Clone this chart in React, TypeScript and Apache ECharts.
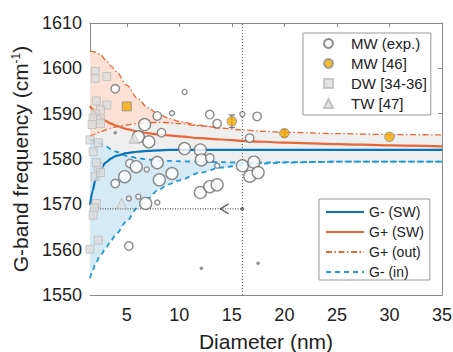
import React, { useEffect, useRef } from 'react';
import * as echarts from 'echarts';

// ---- data ----
const X_GRID = [1.5, 1.75, 2, 2.5, 3, 3.5, 4, 5, 6, 7, 8, 9, 10, 12, 14, 16, 18, 20, 25, 30, 35];
const G_PLUS_OUT_UPPER = [1603.8, 1603.7, 1603.6, 1603, 1601.8, 1600.5, 1599.3, 1596.3, 1593.4, 1591.3, 1589.9, 1589, 1588.3, 1587.4, 1586.8, 1586.4, 1586.1, 1585.9, 1585.6, 1585.4, 1585.3];
const G_PLUS_OUT_LOWER = [1585, 1585.3, 1585.5, 1586, 1586.4, 1586.8, 1587.1, 1587.5, 1587.8, 1588, 1588.1, 1588, 1587.8, 1587.3, 1586.8, 1586.4, 1586.1, 1585.9, 1585.6, 1585.4, 1585.3];
const G_PLUS_SW = [1591.7, 1591, 1590.3, 1589.2, 1588.4, 1587.8, 1587.3, 1586.6, 1586.1, 1585.7, 1585.4, 1585.2, 1585, 1584.6, 1584.3, 1584, 1583.8, 1583.6, 1583.3, 1583, 1582.8];
const G_MINUS_SW = [1569.8, 1573, 1575.3, 1577.8, 1579.2, 1580.1, 1580.7, 1581.3, 1581.6, 1581.8, 1581.9, 1582, 1582, 1582, 1582, 1582, 1582, 1582, 1582, 1582, 1582];
const G_MINUS_IN_UPPER = [1584.3, 1584.1, 1583.9, 1583.4, 1582.8, 1582.2, 1581.6, 1580.7, 1580.2, 1579.9, 1579.7, 1579.6, 1579.5, 1579.4, 1579.3, 1579.2, 1579.2, 1579.3, 1579.4, 1579.4, 1579.4];
const G_MINUS_IN_LOWER = [1553.7, 1555.3, 1556.8, 1558.8, 1560.3, 1562, 1563.5, 1566.3, 1569.2, 1571.3, 1573.2, 1574.4, 1575.3, 1577, 1578.1, 1578.7, 1579, 1579.2, 1579.4, 1579.4, 1579.4];
const LOWER_OUT_END = 14; // lower G+ (out) bound drawn up to where it merges

// [diameter, frequency, marker size class]
const MW_EXP = [
  [3.9, 1595.5, 2], [10.5, 1594.8, 1], [7.9, 1589.5, 2], [9.3, 1590.1, 1], [12.9, 1589.8, 2],
  [13.6, 1587.8, 2], [6.7, 1587.6, 3], [8.3, 1585.8, 2], [6.1, 1584.9, 3], [7.1, 1583.8, 3],
  [10.5, 1582.3, 3], [12.0, 1582.0, 3], [12.1, 1579.8, 3], [12.9, 1580.2, 2], [13.6, 1578.5, 1],
  [5.3, 1579.0, 2], [5.9, 1578.3, 3], [7.9, 1579.2, 3], [6.9, 1577.7, 1], [3.9, 1574.6, 2],
  [4.8, 1576.1, 3], [8.1, 1575.4, 3], [9.3, 1576.8, 3], [12.0, 1572.6, 3], [12.9, 1573.9, 3],
  [13.6, 1574.3, 3], [5.2, 1571.3, 1], [6.1, 1571.7, 1], [6.8, 1570.2, 3], [7.9, 1570.4, 1],
  [5.2, 1560.8, 2], [16.0, 1589.9, 1], [17.4, 1589.4, 2], [16.7, 1584.6, 2], [16.0, 1578.5, 3],
  [17.1, 1579.3, 3], [16.7, 1576.2, 3], [17.5, 1577.0, 3],
];
const MW_DOTS = [[3.9, 1585.8], [12.1, 1555.9], [17.5, 1557.0]];
const MW_REF = [[5.0, 1591.6], [15.0, 1588.3], [20.0, 1585.7], [30.0, 1584.9]];
const MW_REF_ERR = [[15.0, 1586.9, 1589.7], [20.0, 1584.9, 1586.5]];
const DW = [
  [2.0, 1599.3], [2.0, 1597.8], [3.1, 1598.2], [2.1, 1592.8], [3.1, 1591.9], [2.5, 1590.8],
  [2.0, 1590.0], [1.8, 1589.0], [2.5, 1588.8], [1.7, 1587.6], [2.5, 1587.8], [1.5, 1584.2],
  [2.3, 1583.6], [1.8, 1581.6], [2.3, 1578.3], [2.1, 1579.2], [2.0, 1576.1], [2.5, 1577.0],
  [2.1, 1570.2], [1.9, 1569.2], [1.8, 1567.6], [2.3, 1562.1], [1.5, 1560.1],
];
const TW = [[4.5, 1570.2], [5.7, 1584.6]];
const REF_DIAMETER = 16;
const REF_FREQ = 1569;
const ARROW_AT = 14.3;
const X_MIN = 1.5, X_MAX = 35;
const Y_MIN = 1550, Y_MAX = 1610, Y_STEP = 10;
const X_TICKS = [5, 10, 15, 20, 25, 30, 35];

const FONT = 'Liberation Sans, Arial, Helvetica, sans-serif';
const ORANGE = '#eb6637';
const BLUE = '#0a74bb';
const LBLUE = '#2399d6';
const SIZE_BY_CLASS = [3, 5, 8.5, 12];

const pts = (ys: number[]) => X_GRID.map((x, i) => [x, ys[i]]);

export default function App() {
  const ref = useRef<HTMLDivElement>(null);
  useEffect(() => {
    if (!ref.current) return;
    const chart = echarts.init(ref.current, null, { renderer: 'svg' });
    const fill = (name: string, ys: number[], color: string) => ({
      name, type: 'line', data: pts(ys), symbol: 'none', smooth: 0.3, smoothMonotone: 'x',
      lineStyle: { width: 0, opacity: 0 }, areaStyle: { color, opacity: 1, origin: 'start' },
      z: 1, silent: true,
    });
    const line = (name: string, data: number[][], color: string, width: number, type: any, z = 2) => ({
      name, type: 'line', data, symbol: 'none', smooth: 0.3, smoothMonotone: 'x',
      lineStyle: { color, width, type }, itemStyle: { color }, z, silent: true,
    });
    const dashDot = [6, 2.5, 1.5, 2.5];
    const dashed = [5, 4];
    const axisGray = '#8a8a8a';
    const option: any = {
      animation: false,
      textStyle: { fontFamily: FONT },
      grid: { left: 90, right: 11, top: 23, bottom: 57, containLabel: false, outerBoundsMode: 'none' },
      xAxis: [
        {
          type: 'value', min: X_MIN, max: X_MAX, position: 'bottom',
          axisLine: { show: true, lineStyle: { color: axisGray, width: 1 } },
          axisTick: { show: true, inside: true, length: 4, customValues: X_TICKS, lineStyle: { color: axisGray } },
          axisLabel: { customValues: X_TICKS, fontSize: 18, color: '#222', margin: 11, fontFamily: FONT, formatter: (v: number) => String(v) },
          splitLine: { show: false },
          name: 'Diameter (nm)', nameLocation: 'middle', nameGap: 36,
          nameTextStyle: { fontSize: 21, color: '#222', fontFamily: FONT },
        },
        {
          type: 'value', min: X_MIN, max: X_MAX, position: 'top',
          axisLine: { show: true, lineStyle: { color: axisGray, width: 1 } },
          axisTick: { show: true, inside: true, length: 4, customValues: X_TICKS, lineStyle: { color: axisGray } },
          axisLabel: { show: false }, splitLine: { show: false },
        },
      ],
      yAxis: [
        {
          type: 'value', min: Y_MIN, max: Y_MAX, interval: Y_STEP, position: 'left',
          axisLine: { show: true, lineStyle: { color: axisGray, width: 1 } },
          axisTick: { show: true, inside: true, length: 4, lineStyle: { color: axisGray } },
          axisLabel: { fontSize: 18, color: '#222', margin: 8, fontFamily: FONT, formatter: (v: number) => String(v) },
          splitLine: { show: false },
          name: 'G-band frequency (cm{sup|-1})', nameLocation: 'middle', nameGap: 49, nameRotate: 90,
          nameTextStyle: {
            fontSize: 21, color: '#222', fontFamily: FONT,
            rich: { sup: { fontSize: 12, color: '#222', fontFamily: FONT, padding: [0, 0, 10, 0] } },
          },
        },
        {
          type: 'value', min: Y_MIN, max: Y_MAX, interval: Y_STEP, position: 'right',
          axisLine: { show: true, lineStyle: { color: axisGray, width: 1 } },
          axisTick: { show: true, inside: true, length: 4, lineStyle: { color: axisGray } },
          axisLabel: { show: false }, splitLine: { show: false },
        },
      ],
      legend: [
        {
          data: ['MW (exp.)', 'MW [46]', 'DW [34-36]', 'TW [47]'],
          orient: 'vertical', left: 303, top: 33, itemWidth: 9, itemHeight: 9, itemGap: 5,
          padding: [3, 4, 4, 20], borderColor: '#999', borderWidth: 1, backgroundColor: '#fff',
          textStyle: { fontSize: 15, color: '#222', fontFamily: FONT, padding: [0, 0, 0, 13] },
          selectedMode: false, z: 10,
        },
        {
          data: ['G- (SW)', 'G+ (SW)', 'G+ (out)', 'G- (in)'],
          orient: 'vertical', left: 319, top: 199, itemWidth: 38, itemHeight: 14, itemGap: 6,
          padding: [6, 6, 1, 6], borderColor: '#999', borderWidth: 1, backgroundColor: '#fff',
          itemStyle: { opacity: 0 },
          textStyle: { fontSize: 14, color: '#222', fontFamily: FONT }, selectedMode: false, z: 10,
        },
      ],
      series: [
        fill('fill-out', G_PLUS_OUT_UPPER, '#fce2d6'),
        fill('fill-mid', G_PLUS_OUT_LOWER, '#efefef'),
        fill('fill-in', G_MINUS_IN_UPPER, '#d6eaf6'),
        fill('fill-below', G_MINUS_IN_LOWER, '#ffffff'),
        line('G+ (out)', pts(G_PLUS_OUT_UPPER), ORANGE, 1.3, dashDot),
        line('G+ (out) lower', pts(G_PLUS_OUT_LOWER).filter((p) => p[0] <= LOWER_OUT_END), ORANGE, 1.3, dashDot),
        line('G- (in)', pts(G_MINUS_IN_LOWER), LBLUE, 1.8, dashed),
        line('G- (in) upper', pts(G_MINUS_IN_UPPER), LBLUE, 1.8, dashed),
        line('G+ (SW)', pts(G_PLUS_SW), ORANGE, 2.2, 'solid'),
        line('G- (SW)', pts(G_MINUS_SW), BLUE, 2.2, 'solid'),
        {
          name: 'ref-v', type: 'line', data: [[REF_DIAMETER, Y_MIN], [REF_DIAMETER, Y_MAX]], symbol: 'none',
          lineStyle: { color: '#555', width: 1, type: [1, 2] }, z: 2, silent: true,
        },
        {
          name: 'ref-h', type: 'line', data: [[X_MIN, REF_FREQ], [REF_DIAMETER, REF_FREQ]], symbol: 'none',
          lineStyle: { color: '#555', width: 1.2, type: [1, 1.5] }, z: 2, silent: true,
        },
        {
          name: 'ref-end', type: 'scatter', data: [[REF_DIAMETER, REF_FREQ]], symbol: 'circle', symbolSize: 4,
          itemStyle: { color: '#555' }, z: 3, silent: true,
        },
        {
          name: 'ref-arrow', type: 'scatter', data: [[ARROW_AT, REF_FREQ]],
          symbol: 'path://M10,0 L0,6 L10,12', symbolSize: [8, 10], symbolKeepAspect: false,
          itemStyle: { color: 'none', borderColor: '#333', borderWidth: 1.3 }, z: 3, silent: true,
        },
        {
          name: 'MW (exp.)', type: 'scatter', data: MW_EXP,
          symbol: 'circle', symbolSize: (v: number[]) => SIZE_BY_CLASS[v[2]],
          itemStyle: { color: '#fff', borderColor: '#707070', borderWidth: 1.4 }, z: 3, silent: true,
        },
        {
          name: 'MW dots', type: 'scatter', data: MW_DOTS, symbol: 'circle', symbolSize: 3.5,
          itemStyle: { color: '#777' }, z: 3, silent: true,
        },
        {
          name: 'DW [34-36]', type: 'scatter', data: DW, symbol: 'rect', symbolSize: 8, symbolKeepAspect: true,
          itemStyle: { color: '#dcdcdc', borderColor: '#bdbdbd', borderWidth: 1 }, z: 3, silent: true,
        },
        {
          name: 'TW [47]', type: 'scatter', data: TW, symbol: 'triangle', symbolSize: 10, symbolKeepAspect: true,
          itemStyle: { color: '#e0e0e0', borderColor: '#b5b5b5', borderWidth: 1 }, z: 3, silent: true,
        },
        {
          name: 'MW err', type: 'custom', data: MW_REF_ERR, encode: { x: 0, y: [1, 2] }, z: 4, silent: true,
          renderItem: (params: any, api: any) => {
            const x = api.value(0);
            const lo = api.coord([x, api.value(1)]);
            const hi = api.coord([x, api.value(2)]);
            const w = 3;
            const st = { stroke: '#555', lineWidth: 1 };
            return {
              type: 'group',
              children: [
                { type: 'line', shape: { x1: lo[0], y1: lo[1], x2: hi[0], y2: hi[1] }, style: st },
                { type: 'line', shape: { x1: lo[0] - w, y1: lo[1], x2: lo[0] + w, y2: lo[1] }, style: st },
                { type: 'line', shape: { x1: hi[0] - w, y1: hi[1], x2: hi[0] + w, y2: hi[1] }, style: st },
              ],
            };
          },
        },
        {
          name: 'MW [46]', type: 'scatter',
          data: MW_REF.map((p, i) => (i === 0 ? { value: p, symbol: 'rect', symbolSize: 9 } : p)),
          symbol: 'circle', symbolSize: 9.5,
          itemStyle: { color: '#f5a900', borderColor: '#8d8d8d', borderWidth: 1 }, z: 5, silent: true,
        },
      ],
    };
    chart.setOption(option);
    return () => chart.dispose();
  }, []);
  return <div ref={ref} style={{ position: 'fixed', left: 0, top: 0, width: 453, height: 352, background: '#fff' }} />;
}
